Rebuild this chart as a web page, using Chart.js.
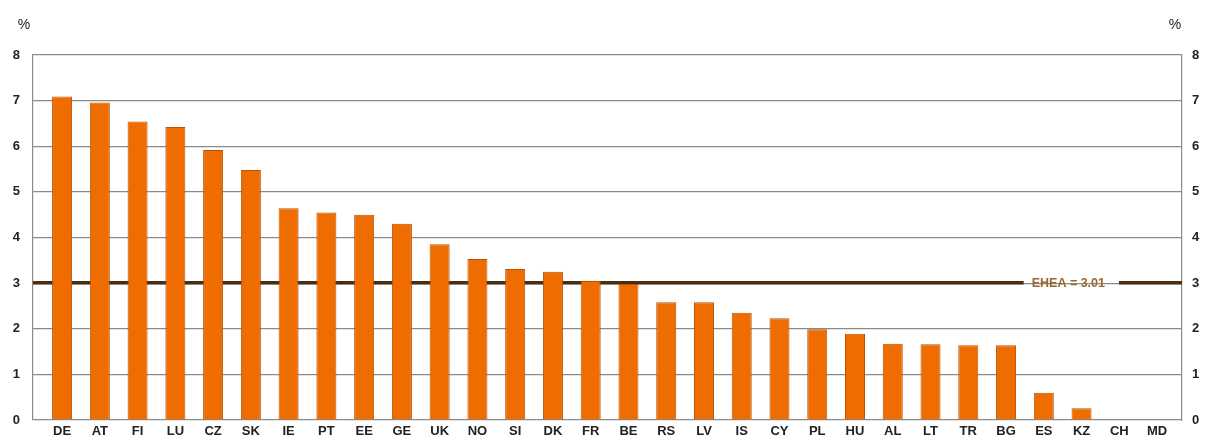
<!DOCTYPE html>
<html>
<head>
<meta charset="utf-8">
<script src="https://cdn.jsdelivr.net/npm/chart.js@4.4.1/dist/chart.umd.min.js"></script>
<style>
  html, body { margin:0; padding:0; background:#fff; }
  #wrap { width:1205px; height:444px; position:relative; }
</style>
</head>
<body>
<div id="wrap"><canvas id="chart"></canvas></div>
<script>
/* ---- data ---- */
const countries = ['DE','AT','FI','LU','CZ','SK','IE','PT','EE','GE','UK','NO','SI','DK','FR',
                   'BE','RS','LV','IS','CY','PL','HU','AL','LT','TR','BG','ES','KZ','CH','MD'];
const shares    = [7.09,6.96,6.54,6.42,5.92,5.48,4.64,4.55,4.50,4.30,3.85,3.53,3.31,3.25,3.05,
                   2.98,2.58,2.58,2.35,2.23,1.99,1.89,1.67,1.66,1.64,1.64,0.60,0.26,null,null];
const yTicks    = [0,1,2,3,4,5,6,7,8];
const ehea      = 3.01;
const eheaLabel = 'EHEA = 3.01';

const FONT = '"Liberation Sans", Arial, sans-serif';

/* EHEA reference line, behind the bars, with a gap for its label */
const eheaLine = {
  id: 'eheaLine',
  beforeDatasetsDraw(chart) {
    const { ctx, chartArea: a, scales } = chart;
    const y = scales.y.getPixelForValue(ehea);
    ctx.save();
    ctx.font = 'bold 12.5px ' + FONT;
    const tw = ctx.measureText(eheaLabel).width;
    const cx = scales.x.getPixelForValue(26.65);
    const g0 = cx - tw / 2 - 8, g1 = cx + tw / 2 + 14;
    ctx.strokeStyle = '#4a2e10';
    ctx.lineWidth = 3.5;
    ctx.beginPath();
    ctx.moveTo(a.left, y); ctx.lineTo(g0, y);
    ctx.moveTo(g1, y);     ctx.lineTo(a.right, y);
    ctx.stroke();
    ctx.fillStyle = '#9c6530';
    ctx.textAlign = 'center';
    ctx.textBaseline = 'middle';
    ctx.fillText(eheaLabel, cx, y + 1);
    ctx.restore();
  },
  afterDraw(chart) {
    const { ctx, chartArea: a } = chart;
    ctx.save();
    ctx.font = '14px ' + FONT;
    ctx.fillStyle = '#222';
    ctx.textAlign = 'center';
    ctx.textBaseline = 'middle';
    ctx.fillText('%', a.left - 9, a.top - 30);
    ctx.fillText('%', a.right - 7, a.top - 30);
    ctx.restore();
  }
};

new Chart(document.getElementById('chart'), {
  type: 'bar',
  data: {
    datasets: [{
      data: shares.map((v, i) => ({ x: i, y: v })),
      backgroundColor: '#ee6c00',
      borderColor: '#b85408',
      borderWidth: 1,
      categoryPercentage: 1,
      barPercentage: 0.53
    }]
  },
  options: {
    responsive: true,
    maintainAspectRatio: false,
    animation: false,
    layout: { padding: { top: 55, right: 0, left: 0, bottom: 0 } },
    plugins: { legend: { display: false }, tooltip: { enabled: false } },
    scales: {
      x: {
        type: 'linear',
        offset: false,
        min: -0.77,
        max: 29.66,
        afterBuildTicks: s => { s.ticks = countries.map((c, i) => ({ value: i })); },
        afterFit: s => { s.height = 24; },
        grid: { display: false, drawTicks: false, offset: false },
        border: { display: false },
        ticks: {
          autoSkip: false,
          maxRotation: 0,
          padding: 4,
          color: '#222',
          font: { family: FONT, size: 13, weight: 'bold' },
          callback: v => countries[v]
        }
      },
      y: {
        position: 'left',
        min: 0, max: 8,
        afterBuildTicks: s => { s.ticks = yTicks.map(v => ({ value: v })); },
        afterFit: s => { s.width = 33; },
        grid: { color: '#8a8a8a', lineWidth: 1.2, drawTicks: false },
        border: { display: true, color: '#8a8a8a', width: 1.2 },
        ticks: { padding: 13, color: '#222', font: { family: FONT, size: 13, weight: 'bold' } }
      },
      y2: {
        position: 'right',
        min: 0, max: 8,
        afterBuildTicks: s => { s.ticks = yTicks.map(v => ({ value: v })); },
        afterFit: s => { s.width = 23; },
        grid: { display: false, drawTicks: false },
        border: { display: true, color: '#8a8a8a', width: 1.2 },
        ticks: { padding: 10, color: '#222', font: { family: FONT, size: 13, weight: 'bold' } }
      }
    }
  },
  plugins: [eheaLine]
});
</script>
</body>
</html>
